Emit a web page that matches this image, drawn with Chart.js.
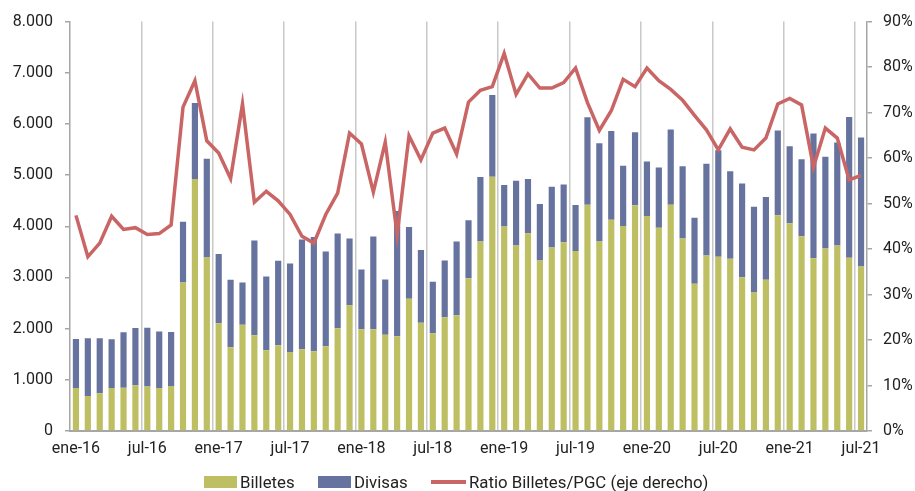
<!DOCTYPE html>
<html>
<head>
<meta charset="utf-8">
<script src="https://cdn.jsdelivr.net/npm/chart.js@4.4.1/dist/chart.umd.min.js"></script>
<style>
  html, body { margin: 0; padding: 0; background: #fff; }
  #wrap { position: relative; width: 915px; height: 491px; overflow: hidden; font-family: Roboto, "Liberation Sans", sans-serif; }
  #legend { position: absolute; left: 0; top: 472px; width: 915px; height: 20px; font-size: 16.8px; color: #222; }
  .lg { position: absolute; top: 0; line-height: 20px; }
  .box { position: absolute; }
</style>
</head>
<body>
<div id="wrap">
  <canvas id="chart" width="915" height="491"></canvas>
  <div id="legend">
    <div class="box" style="left:204px;top:4px;width:33px;height:12px;background:#bebf62"></div>
    <div class="lg" style="left:240px">Billetes</div>
    <div class="box" style="left:318px;top:4px;width:33px;height:12px;background:#67739f"></div>
    <div class="lg" style="left:354px">Divisas</div>
    <div class="box" style="left:431px;top:8px;width:35px;height:4px;background:#c96565"></div>
    <div class="lg" style="left:469px">Ratio Billetes/PGC (eje derecho)</div>
  </div>
</div>
<script>
// months ene-16 .. jul-21
const monthNames = ['ene','feb','mar','abr','may','jun','jul','ago','sep','oct','nov','dic'];
const categories = [];
for (let y = 16; y <= 21; y++) {
    for (let m = 0; m < 12; m++) {
        if (y === 21 && m > 6) break;
        categories.push(monthNames[m] + '-' + y);
    }
}

// millones
const billetes = [
    838, 682, 740, 838, 844, 896, 870, 838, 877, 2903, 4922, 3390,
    2104, 1636, 2078, 1870, 1578, 1675, 1545, 1597, 1558, 1656, 2006, 2455,
    1987, 1987, 1883, 1851, 2584, 2117, 1909, 2221, 2260, 2987, 3701, 4968,
    3994, 3623, 3864, 3331, 3584, 3688, 3519, 4422, 3701, 4130, 4006, 4409,
    4201, 3974, 4422, 3760, 2877, 3429, 3403, 3364, 3006, 2708, 2955, 4214,
    4058, 3805, 3377, 3565, 3623, 3383, 3214
];
const divisas = [
    961, 1130, 1072, 954, 1085, 1117, 1149, 1104, 1058, 1188, 1487, 1928,
    1357, 1319, 825, 1851, 1441, 1650, 1728, 2143, 2234, 1850, 1851, 1305,
    1169, 1812, 1078, 2448, 1403, 1422, 1007, 1110, 1441, 1130, 1260, 1597,
    811, 1267, 1058, 1104, 1189, 1130, 897, 1708, 1922, 1734, 1176, 1429,
    1065, 1175, 1468, 1415, 1292, 1792, 2084, 1714, 1832, 1675, 1616, 1656,
    1507, 1507, 2435, 1792, 2013, 2753, 2520
];
// % (eje derecho)
const ratio = [
    47.4, 38.3, 41.3, 47.2, 44.3, 44.7, 43.2, 43.4, 45.3, 71.2, 77.0, 63.8,
    61.1, 55.5, 71.9, 50.3, 52.7, 50.6, 47.6, 42.8, 41.3, 47.6, 52.3, 65.5,
    63.1, 52.5, 63.5, 43.2, 64.9, 59.6, 65.5, 66.6, 60.9, 72.3, 74.9, 75.7,
    83.0, 74.0, 78.5, 75.4, 75.4, 76.6, 79.8, 72.2, 66.1, 70.4, 77.3, 75.7,
    79.8, 77.0, 75.1, 72.7, 69.4, 66.2, 61.8, 66.4, 62.4, 61.8, 64.4, 71.9,
    73.1, 71.7, 58.0, 66.6, 64.4, 55.2, 56.2
];

const axisGray = '#a6a6a6';
const tickFont = { family: 'Roboto', size: 16 };

new Chart(document.getElementById('chart'), {
    type: 'bar',
    data: {
        labels: categories,
        datasets: [
            {
                label: 'Ratio Billetes/PGC (eje derecho)',
                type: 'line',
                data: ratio,
                yAxisID: 'y2',
                borderColor: '#c96565',
                borderWidth: 3.5,
                pointRadius: 0,
                tension: 0,
                order: 0
            },
            {
                label: 'Billetes',
                data: billetes,
                backgroundColor: '#bebf62',
                yAxisID: 'y',
                stack: 's',
                order: 1,
                barPercentage: 0.52,
                categoryPercentage: 1
            },
            {
                label: 'Divisas',
                data: divisas,
                backgroundColor: '#67739f',
                yAxisID: 'y',
                stack: 's',
                order: 1,
                barPercentage: 0.52,
                categoryPercentage: 1
            }
        ]
    },
    options: {
        responsive: false,
        animation: false,
        layout: { padding: { top: 20, left: 0, right: 0, bottom: 0 } },
        plugins: { legend: { display: false }, tooltip: { enabled: false } },
        scales: {
            x: {
                stacked: true,
                offset: true,
                border: { color: axisGray, width: 2 },
                grid: {
                    offset: true,
                    drawTicks: false,
                    lineWidth: 1.5,
                    color: (ctx) => (ctx.index > 0 && ctx.index % 6 === 0) ? '#c8c8c8' : 'rgba(0,0,0,0)'
                },
                ticks: {
                    autoSkip: false,
                    maxRotation: 0,
                    padding: 8,
                    color: '#222',
                    font: tickFont,
                    callback: function (v, i) { return i % 6 === 0 ? categories[i] : ''; }
                },
                afterFit: (s) => { s.height = 60; }
            },
            y: {
                position: 'left',
                stacked: true,
                min: 0,
                max: 8000,
                border: { color: axisGray, width: 1.5 },
                grid: { drawOnChartArea: false, tickLength: 5, color: axisGray, lineWidth: 1.5 },
                ticks: {
                    stepSize: 1000,
                    padding: 12,
                    color: '#222',
                    font: tickFont,
                    callback: (v) => v.toLocaleString('de-DE')
                },
                afterFit: (s) => { s.width = 70; }
            },
            y2: {
                position: 'right',
                min: 0,
                max: 90,
                border: { color: axisGray, width: 1.5 },
                grid: { drawOnChartArea: false, tickLength: 5, color: axisGray, lineWidth: 1.5 },
                ticks: {
                    stepSize: 10,
                    padding: 11,
                    color: '#222',
                    font: tickFont,
                    callback: (v) => v + '%'
                },
                afterFit: (s) => { s.width = 48; }
            }
        }
    }
});
</script>
</body>
</html>
